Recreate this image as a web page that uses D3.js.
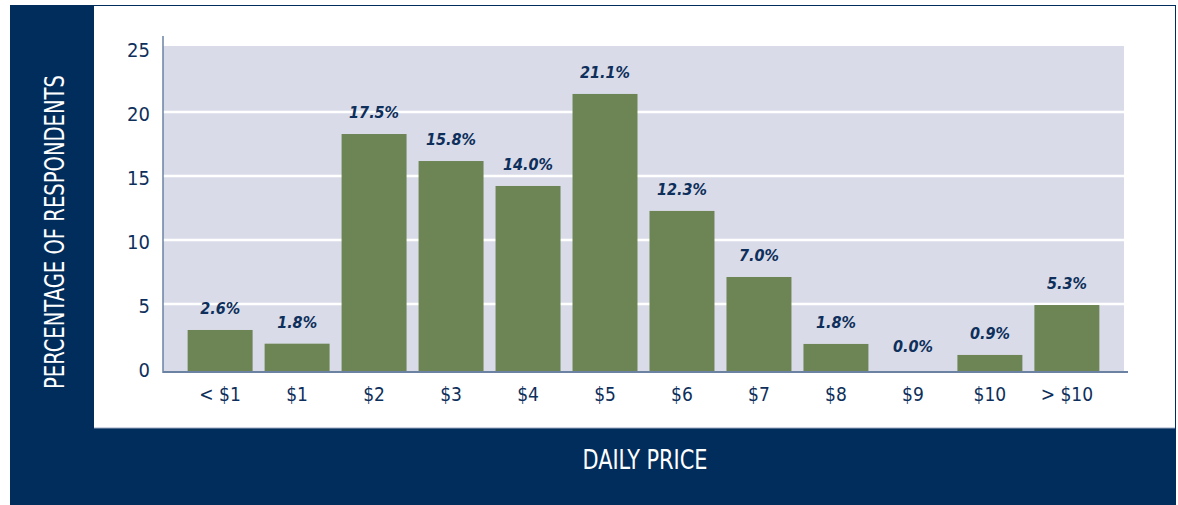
<!DOCTYPE html>
<html>
<head>
<meta charset="utf-8">
<script src="https://cdn.jsdelivr.net/npm/d3@7"></script>
<style>
  body { margin: 0; background: #ffffff; }
  svg { display: block; }
</style>
</head>
<body>
<svg id="chart"></svg>
<script>
// categories on the x axis
const categories = ['< $1', '$1', '$2', '$3', '$4', '$5', '$6', '$7', '$8', '$9', '$10', '> $10'];
// bar heights as drawn in the picture
const barValues = [2.97, 1.9, 18.28, 16.17, 14.22, 21.41, 12.27, 7.11, 1.88, 0, 1.02, 4.92];
// printed value labels
const valueLabels = ['2.6%', '1.8%', '17.5%', '15.8%', '14.0%', '21.1%', '12.3%', '7.0%', '1.8%', '0.0%', '0.9%', '5.3%'];
// y axis ticks
const yTicks = [0, 5, 10, 15, 20, 25];

const width = 1178;
const height = 505;

const navy = '#002d5c';
const textNavy = '#0e2f5b';
const plotBg = '#d9dce8';
const barColor = '#6d8455';
const axisColor = '#6b82a3';
const font = '"DejaVu Sans Condensed", "Liberation Sans Narrow", sans-serif';

const svg = d3.select('#chart')
    .attr('width', width)
    .attr('height', height);

// outer navy frame
svg.append('rect')
    .attr('x', 10)
    .attr('y', 5)
    .attr('width', 1166)
    .attr('height', 500)
    .style('fill', navy);

// white panel
svg.append('rect')
    .attr('x', 94)
    .attr('y', 6)
    .attr('width', 1081)
    .attr('height', 422)
    .style('fill', '#ffffff');

svg.append('line')
    .attr('x1', 94)
    .attr('x2', 1175)
    .attr('y1', 428)
    .attr('y2', 428)
    .style('stroke', '#9aa8bf')
    .style('stroke-width', 1);

// plot area
const plotLeft = 163;
const plotRight = 1124;
const plotTop = 46;
const axisY = 372;

// scales
const xScale = d3.scaleBand()
    .domain(categories)
    .range([plotLeft, plotRight])
    .paddingInner(0.156)
    .paddingOuter(0.32);

const yScale = d3.scaleLinear()
    .domain([0, 25])
    .range([368, 48]);

svg.append('rect')
    .attr('x', plotLeft)
    .attr('y', plotTop)
    .attr('width', plotRight - plotLeft)
    .attr('height', axisY - plotTop)
    .style('fill', plotBg);

// gridlines
svg.append('g')
    .selectAll('line')
    .data(yTicks.filter(d => d > 0 && d < 25))
    .join('line')
    .attr('x1', plotLeft)
    .attr('x2', plotRight)
    .attr('y1', d => yScale(d))
    .attr('y2', d => yScale(d))
    .style('stroke', '#ffffff')
    .style('stroke-width', 2.5);

// bars (a zero value draws nothing)
svg.append('g')
    .selectAll('rect')
    .data(barValues)
    .join('rect')
    .attr('x', (d, i) => xScale(categories[i]))
    .attr('y', d => yScale(d))
    .attr('width', xScale.bandwidth())
    .attr('height', d => d > 0 ? axisY - yScale(d) : 0)
    .style('fill', barColor);

// value labels
svg.append('g')
    .selectAll('text')
    .data(barValues)
    .join('text')
    .attr('x', (d, i) => xScale(categories[i]) + xScale.bandwidth() / 2)
    .attr('y', d => yScale(d) - 16)
    .attr('text-anchor', 'middle')
    .style('font-family', font)
    .style('font-size', '16px')
    .style('font-style', 'italic')
    .style('font-weight', 'bold')
    .style('fill', textNavy)
    .text((d, i) => valueLabels[i]);

// x axis line
svg.append('line')
    .attr('x1', plotLeft)
    .attr('x2', 1128)
    .attr('y1', axisY)
    .attr('y2', axisY)
    .style('stroke', axisColor)
    .style('stroke-width', 2);

// y axis line
svg.append('line')
    .attr('x1', plotLeft)
    .attr('x2', plotLeft)
    .attr('y1', 36)
    .attr('y2', axisY + 1)
    .style('stroke', axisColor)
    .style('stroke-width', 1.5);

// x tick labels
svg.append('g')
    .selectAll('text')
    .data(categories)
    .join('text')
    .attr('x', d => xScale(d) + xScale.bandwidth() / 2)
    .attr('y', 401)
    .attr('text-anchor', 'middle')
    .style('font-family', font)
    .style('font-size', '19px')
    .style('fill', textNavy)
    .text(d => d);

// y tick labels
svg.append('g')
    .selectAll('text')
    .data(yTicks)
    .join('text')
    .attr('x', 150)
    .attr('y', d => yScale(d) + 9)
    .attr('text-anchor', 'end')
    .style('font-family', font)
    .style('font-size', '20px')
    .style('fill', textNavy)
    .text(d => d);

// axis titles
svg.append('text')
    .attr('x', 645)
    .attr('y', 469)
    .attr('text-anchor', 'middle')
    .attr('textLength', 125)
    .attr('lengthAdjust', 'spacingAndGlyphs')
    .style('font-family', font)
    .style('font-size', '26px')
    .style('fill', '#ffffff')
    .text('DAILY PRICE');

svg.append('text')
    .attr('transform', 'translate(64, 232) rotate(-90)')
    .attr('text-anchor', 'middle')
    .attr('textLength', 314)
    .attr('lengthAdjust', 'spacingAndGlyphs')
    .style('font-family', font)
    .style('font-size', '26px')
    .style('fill', '#ffffff')
    .text('PERCENTAGE OF RESPONDENTS');
</script>
</body>
</html>
